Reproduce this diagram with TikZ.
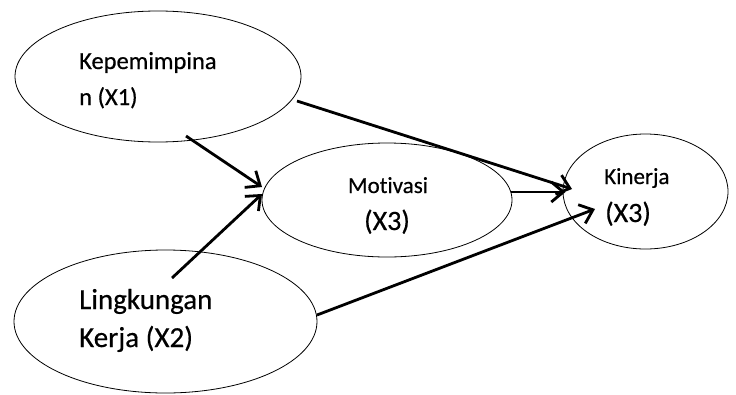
\documentclass[tikz,border=0pt]{standalone}
\usepackage{fontspec}
\setmainfont{Carlito}[FakeBold=0.5,Ligatures=NoCommon]
\usetikzlibrary{shapes.geometric,arrows.meta}
\begin{document}
\begin{tikzpicture}[x=1pt,y=-1pt,
  oval/.style={draw,ellipse,line width=0.8pt,inner sep=0pt},
  link/.style={line width=2.8pt,-{Straight Barb[length=12pt,width=20pt,line width=2.8pt]}},
  lbl/.style={inner sep=0pt,anchor=base west}]
\useasboundingbox[fill=white] (0,0) rectangle (736,394);
% ellipses
\node[oval,minimum width=286pt,minimum height=131pt] (e1) at (158,76.5) {};
\node[oval,minimum width=250pt,minimum height=114pt] (e2) at (387,200) {};
\node[oval,minimum width=165pt,minimum height=115pt] (k) at (645.5,191.5) {};
\node[oval,minimum width=303pt,minimum height=143pt] (e4) at (165.5,321.5) {};
% labels
\node[lbl,font=\fontsize{24.5}{30}\selectfont] (t1a) at (79,69) {Kepemimpina};
\node[lbl,font=\fontsize{24.5}{30}\selectfont] (t1b) at (79,105) {n (X1)};
\node[inner sep=0pt,anchor=base,font=\fontsize{23}{28}\selectfont] (t2a) at (388,193) {Motivasi};
\node[inner sep=0pt,anchor=base,font=\fontsize{28}{33}\selectfont] (t2b) at (387,230) {(X3)};
\node[lbl,font=\fontsize{23}{28}\selectfont] (t3a) at (604,184) {Kinerja};
\node[lbl,font=\fontsize{28}{33}\selectfont] (t3b) at (605,222) {(X3)};
\node[lbl,font=\fontsize{29}{34}\selectfont] (t4a) at (79,309) {Lingkungan};
\node[lbl,font=\fontsize{29}{34}\selectfont] (t4b) at (79,347) {Kerja (X2)};
% connectors
\draw[link] ([shift={(28,59.5)}]e1.center) -- ([shift={(-125,-13)}]e2.center);
\draw[link] ([shift={(6.5,-43.5)}]e4.center) -- ([shift={(-125,-6)}]e2.center);
\draw[link] ([shift={(139,24.5)}]e1.center) -- ([shift={(-73.5,-2.5)}]k.center);
\draw[link] ([shift={(124,-8)}]e2.center) -- ([shift={(-80,0.5)}]k.center);
\draw[link] ([shift={(151.5,-6.5)}]e4.center) -- ([shift={(-50.5,17.5)}]k.center);
\end{tikzpicture}
\end{document}
